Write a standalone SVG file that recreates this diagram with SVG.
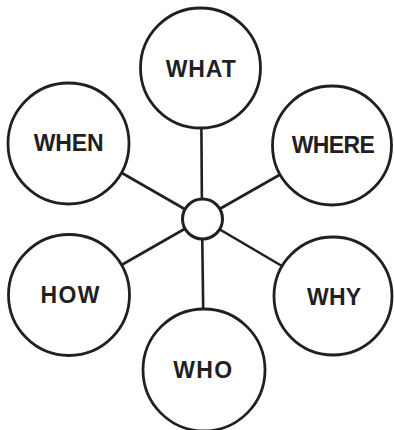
<svg xmlns="http://www.w3.org/2000/svg" width="394" height="430" viewBox="0 0 394 430">
  <style>
    .bg { fill: #ffffff; }
    .conn { stroke: #231f20; stroke-width: 2.6; fill: none; }
    .node { fill: #ffffff; stroke: #231f20; stroke-width: 2.8; }
    .hub { fill: #ffffff; stroke: #231f20; stroke-width: 3; }
    .lbl { font-family: "Liberation Sans", Arial, sans-serif; font-weight: bold; font-size: 23px; fill: #231f20; text-anchor: middle; }
  </style>
  <rect class="bg" x="0" y="0" width="394" height="430"/>
  <g id="connectors">
    <line class="conn" x1="202" y1="219" x2="201" y2="68"/>
    <line class="conn" x1="202" y1="219" x2="68" y2="142"/>
    <line class="conn" x1="202" y1="219" x2="332" y2="145"/>
    <line class="conn" x1="202" y1="219" x2="69" y2="295"/>
    <line class="conn" x1="202" y1="219" x2="333" y2="296"/>
    <line class="conn" x1="202" y1="219" x2="204" y2="370"/>
  </g>
  <g id="hub">
    <circle class="hub" cx="202.5" cy="219" r="20"/>
  </g>
  <g id="what">
    <circle class="node" cx="200.5" cy="68" r="60"/>
    <text class="lbl" x="200.7" y="76.5" textLength="70" lengthAdjust="spacing">WHAT</text>
  </g>
  <g id="when">
    <circle class="node" cx="68.5" cy="143.5" r="60.5"/>
    <text class="lbl" x="68.7" y="150.5" textLength="70" lengthAdjust="spacing">WHEN</text>
  </g>
  <g id="where">
    <circle class="node" cx="332" cy="145.5" r="59.5"/>
    <text class="lbl" x="333.3" y="152.5" textLength="83" lengthAdjust="spacing">WHERE</text>
  </g>
  <g id="how">
    <circle class="node" cx="69" cy="295" r="60.5"/>
    <text class="lbl" x="70" y="303" textLength="59" lengthAdjust="spacing">HOW</text>
  </g>
  <g id="why">
    <circle class="node" cx="333" cy="296" r="59"/>
    <text class="lbl" x="334" y="304.5" textLength="54" lengthAdjust="spacing">WHY</text>
  </g>
  <g id="who">
    <circle class="node" cx="204" cy="370" r="61"/>
    <text class="lbl" x="202.7" y="377.5" textLength="59" lengthAdjust="spacing">WHO</text>
  </g>
</svg>
